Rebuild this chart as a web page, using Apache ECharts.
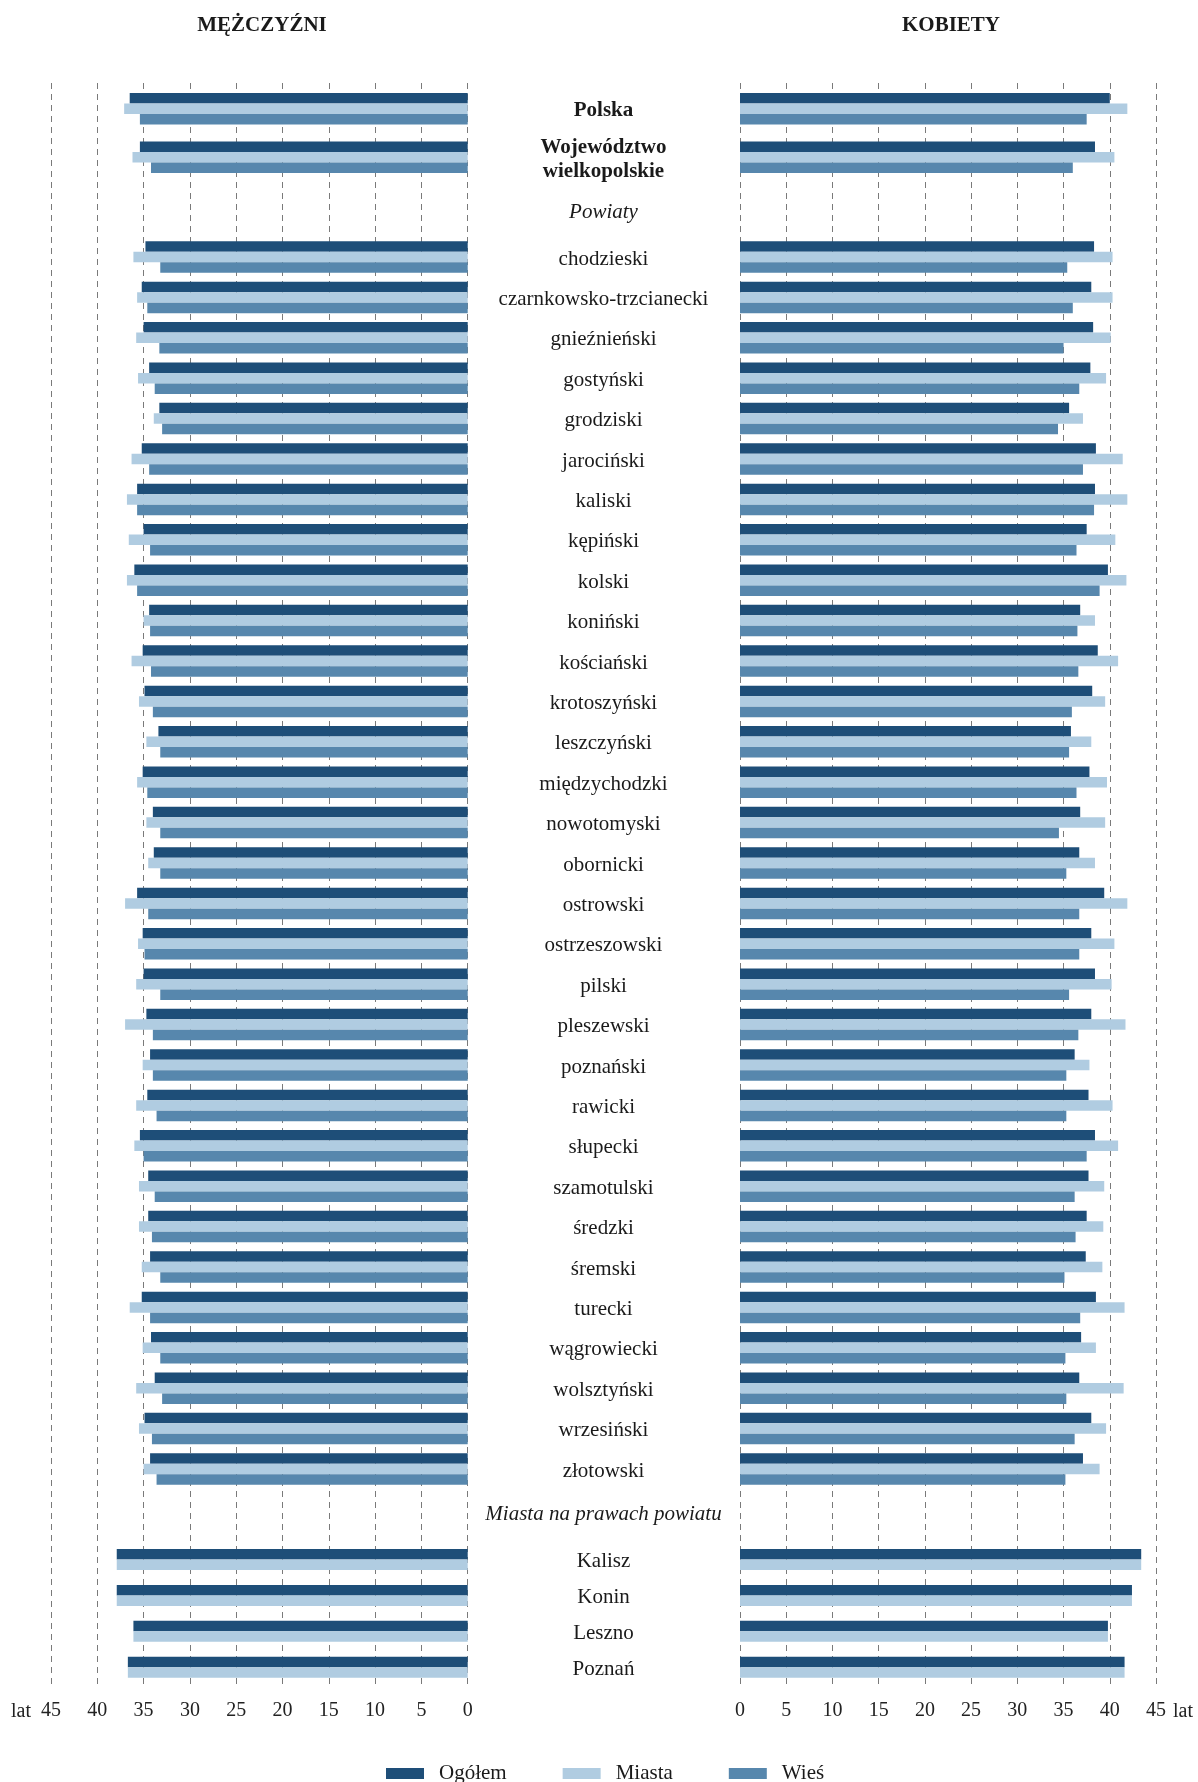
<!DOCTYPE html>
<html>
<head>
<meta charset="utf-8">
<script src="https://cdn.jsdelivr.net/npm/echarts@6/dist/echarts.min.js"></script>
<style>
  html, body { margin: 0; padding: 0; background: #fff; }
  #chart { width: 1198px; height: 1782px; }
</style>
</head>
<body>
<div id="chart"></div>
<script>
  // dane: mediana wieku (lata)
  const topCats = ['Polska', 'Województwo\nwielkopolskie'];
  const topMenOgolem = [36.5, 35.4];
  const topMenMiasta = [37.1, 36.2];
  const topMenWies = [35.4, 34.2];
  const topWomenOgolem = [40.0, 38.4];
  const topWomenMiasta = [41.9, 40.5];
  const topWomenWies = [37.5, 36.0];

  const powiaty = ['chodzieski', 'czarnkowsko-trzcianecki', 'gnieźnieński', 'gostyński', 'grodziski',
    'jarociński', 'kaliski', 'kępiński', 'kolski', 'koniński', 'kościański', 'krotoszyński',
    'leszczyński', 'międzychodzki', 'nowotomyski', 'obornicki', 'ostrowski', 'ostrzeszowski',
    'pilski', 'pleszewski', 'poznański', 'rawicki', 'słupecki', 'szamotulski', 'średzki',
    'śremski', 'turecki', 'wągrowiecki', 'wolsztyński', 'wrzesiński', 'złotowski'];
  const powMenOgolem = [34.8, 35.2, 35.0, 34.4, 33.3, 35.2, 35.7, 35.0, 36.0, 34.4, 35.1, 34.9,
    33.4, 35.1, 34.0, 33.9, 35.7, 35.1, 35.0, 34.7, 34.3, 34.6, 35.4, 34.5, 34.5,
    34.3, 35.2, 34.2, 33.8, 34.9, 34.3];
  const powMenMiasta = [36.1, 35.7, 35.8, 35.6, 33.9, 36.3, 36.8, 36.6, 36.8, 35.0, 36.3, 35.5,
    34.7, 35.7, 34.7, 34.5, 37.0, 35.6, 35.8, 37.0, 35.1, 35.8, 36.0, 35.5, 35.5,
    35.2, 36.5, 35.1, 35.8, 35.5, 35.0];
  const powMenWies = [33.2, 34.6, 33.3, 33.8, 33.0, 34.4, 35.7, 34.3, 35.7, 34.3, 34.2, 34.0,
    33.2, 34.6, 33.2, 33.2, 34.5, 34.9, 33.2, 34.0, 34.0, 33.6, 35.0, 33.8, 34.1,
    33.2, 34.3, 33.2, 33.0, 34.1, 33.6];
  const powWomenOgolem = [38.3, 38.0, 38.2, 37.9, 35.6, 38.5, 38.4, 37.5, 39.8, 36.8, 38.7, 38.1,
    35.8, 37.8, 36.8, 36.7, 39.4, 38.0, 38.4, 38.0, 36.2, 37.7, 38.4, 37.7, 37.5,
    37.4, 38.5, 36.9, 36.7, 38.0, 37.1];
  const powWomenMiasta = [40.3, 40.3, 40.1, 39.6, 37.1, 41.4, 41.9, 40.6, 41.8, 38.4, 40.9, 39.5,
    38.0, 39.7, 39.5, 38.4, 41.9, 40.5, 40.2, 41.7, 37.8, 40.3, 40.9, 39.4, 39.3,
    39.2, 41.6, 38.5, 41.5, 39.6, 38.9];
  const powWomenWies = [35.4, 36.0, 35.0, 36.7, 34.4, 37.1, 38.3, 36.4, 38.9, 36.5, 36.6, 35.9,
    35.6, 36.4, 34.5, 35.3, 36.7, 36.7, 35.6, 36.6, 35.3, 35.3, 37.5, 36.2, 36.3,
    35.1, 36.8, 35.2, 35.3, 36.2, 35.2];

  const miasta = ['Kalisz', 'Konin', 'Leszno', 'Poznań'];
  const cityMenOgolem = [37.9, 37.9, 36.1, 36.7];
  const cityMenMiasta = [37.9, 37.9, 36.1, 36.7];
  const cityWomenOgolem = [43.4, 42.4, 39.8, 41.6];
  const cityWomenMiasta = [43.4, 42.4, 39.8, 41.6];

  const colors = { 'Ogółem': '#1e4e78', 'Miasta': '#b0cce1', 'Wieś': '#5787ad' };
  const font = '"Liberation Serif", "Times New Roman", serif';

  const L = { left: 51, width: 416.7 };
  const R = { left: 740, width: 416 };
  const rows = [
    { top: 84.4, height: 97.2, cats: topCats, bold: true },
    { top: 236.8, height: 1252.4, cats: powiaty },
    { top: 1541.5, height: 143.7, cats: miasta }
  ];

  let chart = echarts.init(document.getElementById('chart'))

  let grid = [
    { left: L.left, width: L.width, top: 83, bottom: 94 },
    { left: R.left, width: R.width, top: 83, bottom: 94 }
  ];
  let xAxis = [0, 1].map(i => ({
    gridIndex: i,
    type: 'value',
    min: 0,
    max: 45,
    interval: 5,
    inverse: i === 0,
    axisLine: { show: false },
    axisTick: { show: false },
    axisLabel: { margin: 13, color: '#222', fontFamily: font, fontSize: 20 },
    splitLine: { show: true, lineStyle: { color: '#7a7a7a', width: 1, type: [6, 5] } }
  }));
  let yAxis = [0, 1].map(i => ({ gridIndex: i, type: 'value', show: false }));
  let series = [];

  function bar(name, data, idx, width) {
    return {
      name,
      type: 'bar',
      xAxisIndex: idx,
      yAxisIndex: idx,
      data,
      barWidth: width,
      barGap: '0%',
      itemStyle: { color: colors[name] },
      silent: true
    }
  }

  // siatki ze słupkami (lewa / prawa dla każdej sekcji)
  rows.forEach(row => {
    [L, R].forEach((side, s) => {
      let idx = grid.length
      grid.push({ left: side.left, width: side.width, top: row.top, height: row.height })
      xAxis.push({ gridIndex: idx, type: 'value', min: 0, max: 45, inverse: s === 0, show: false })
      yAxis.push({ gridIndex: idx, type: 'category', data: row.cats, inverse: true, show: false })
    })
  })

  // podpisy kategorii w środku (osobne osie, lekko przesunięte w dół)
  rows.forEach(row => {
    let idx = grid.length
    grid.push({ left: R.left, width: R.width, top: row.top + 2, height: row.height })
    xAxis.push({ gridIndex: idx, type: 'value', min: 0, max: 45, show: false })
    yAxis.push({
      gridIndex: idx,
      type: 'category',
      data: row.cats,
      inverse: true,
      position: 'left',
      axisLine: { show: false },
      axisTick: { show: false },
      splitLine: { show: false },
      axisLabel: {
        interval: 0,
        align: 'center',
        margin: 136.5,
        color: '#1a1a1a',
        fontFamily: font,
        fontSize: 21,
        lineHeight: 24,
        fontWeight: row.bold ? 'bold' : 'normal'
      }
    })
  })

  // Polska + województwo
  series.push(bar('Ogółem', topMenOgolem, 2, 10.5), bar('Miasta', topMenMiasta, 2, 10.5), bar('Wieś', topMenWies, 2, 10.5))
  series.push(bar('Ogółem', topWomenOgolem, 3, 10.5), bar('Miasta', topWomenMiasta, 3, 10.5), bar('Wieś', topWomenWies, 3, 10.5))
  // powiaty
  series.push(bar('Ogółem', powMenOgolem, 4, 10.5), bar('Miasta', powMenMiasta, 4, 10.5), bar('Wieś', powMenWies, 4, 10.5))
  series.push(bar('Ogółem', powWomenOgolem, 5, 10.5), bar('Miasta', powWomenMiasta, 5, 10.5), bar('Wieś', powWomenWies, 5, 10.5))
  // miasta na prawach powiatu
  series.push(bar('Ogółem', cityMenOgolem, 6, 10.5), bar('Miasta', cityMenMiasta, 6, 10.5))
  series.push(bar('Ogółem', cityWomenOgolem, 7, 10.5), bar('Miasta', cityWomenMiasta, 7, 10.5))

  function label(text, x, y, extra) {
    return {
      type: 'text',
      x, y,
      style: Object.assign({
        text,
        fill: '#1a1a1a',
        font: '21px ' + font,
        textAlign: 'center',
        textVerticalAlign: 'middle'
      }, extra || {})
    }
  }

  chart.setOption({
    animation: false,
    grid,
    xAxis,
    yAxis,
    series,
    legend: {
      data: ['Ogółem', 'Miasta', 'Wieś'],
      top: 1758,
      left: 381,
      itemWidth: 38,
      itemHeight: 11,
      itemGap: 56,
      icon: 'rect',
      textStyle: { fontFamily: font, fontSize: 21, color: '#1a1a1a', padding: [0, 0, 0, 10] }
    },
    graphic: [
      label('MĘŻCZYŹNI', 262, 26, { font: 'bold 21px ' + font }),
      label('KOBIETY', 951, 26, { font: 'bold 21px ' + font }),
      label('Powiaty', 603.5, 212.5, { font: 'italic 21px ' + font }),
      label('Miasta na prawach powiatu', 603.5, 1514.5, { font: 'italic 21px ' + font }),
      label('lat', 21, 1712, { font: '20px ' + font, fill: '#222' }),
      label('lat', 1183, 1712, { font: '20px ' + font, fill: '#222' })
    ]
  })
</script>
</body>
</html>
